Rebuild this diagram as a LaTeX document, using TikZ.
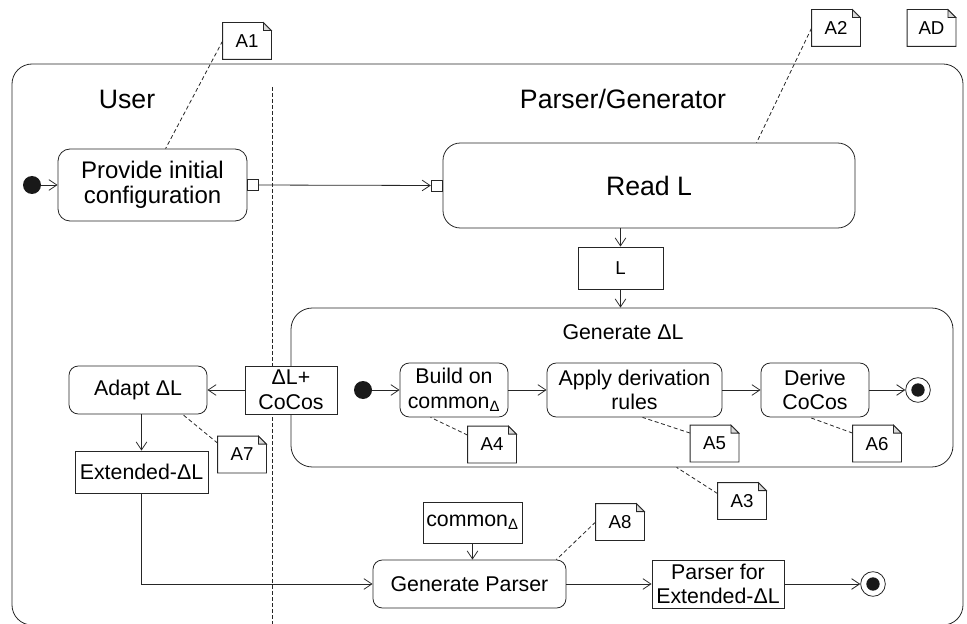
\documentclass[tikz,border=0pt]{standalone}
\usepackage{fontspec}
\setmainfont{Liberation Sans}
\usetikzlibrary{arrows.meta,calc}

\newcommand{\actfont}{\fontsize{16}{18.5}\selectfont}
\newcommand{\annfont}{\fontsize{14}{16}\selectfont}

\newcommand{\drawnote}[4]{%
    \node [annot] (#1) at (#2,#3) {#4};
    \draw (#1.south west) -- (#1.north west) -- ([xshift=-6pt]#1.north east) -- ([yshift=-6pt]#1.north east) -- (#1.south east) -- cycle;
    \filldraw [fill=gray!30] ([xshift=-6pt]#1.north east) -- ([xshift=-6pt,yshift=-6pt]#1.north east) -- ([yshift=-6pt]#1.north east) -- cycle;
}

\tikzset{
    act/.style = {draw, rounded corners=7pt, align=center, font=\actfont, inner sep=0pt},
    obj/.style = {draw, align=center, font=\actfont, inner sep=0pt},
    portbox/.style = {draw, fill=white, minimum size=8.25pt, inner sep=0pt},
    startdot/.style = {circle, fill=black!90, minimum size=13.5pt, inner sep=0pt},
    enddot/.style = {circle, draw, fill=white, minimum size=18.5pt, inner sep=0pt,
        path picture={\fill [black!90] (path picture bounding box.center) circle (5pt);}},
    flow/.style = {-{Straight Barb[length=6pt,width=8pt]}},
    anno/.style = {dash pattern=on 3pt off 2pt},
    annot/.style = {minimum width=36pt, minimum height=27pt, inner sep=0pt, text depth=-3pt, font=\annfont},
}

\begin{document}
\begin{tikzpicture}[x=0.75pt, y=-0.75pt, line width=0.6pt, draw=black!85]
        \useasboundingbox (0,0) rectangle (967,624);

        \draw [rounded corners=15pt] (12,64) rectangle (963,625);
        \draw [dash pattern=on 3pt off 1.5pt] (272,87) -- (272,624);

        \node (user) at (127,99) {\fontsize{20}{22}\selectfont User};
        \node (pgen) at (623,99) {\fontsize{20}{22}\selectfont Parser/Generator};

        \node [startdot] (s1) at (32,185) {};
        \node [act, rounded corners=9pt, minimum width=141.75pt, minimum height=54pt, font=\fontsize{18}{18.5}\selectfont] (prov) at (152.5,185) {Provide initial\\configuration};
        \node [portbox, anchor=west] (pout) at (prov.east) {};

        \node [act, rounded corners=13pt, minimum width=309pt, minimum height=63.75pt, font=\fontsize{20}{22}\selectfont] (readl) at (649,185.5) {Read L};
        \node [portbox, anchor=east] (pin) at (readl.west) {};

        \node [obj, minimum width=63.75pt, minimum height=31.5pt, font=\fontsize{14}{16}\selectfont] (lbox) at (620.5,268) {L};

        \node [draw, rounded corners=16pt, minimum width=496.5pt, minimum height=119.25pt] (gen) at (622,387.5) {};
        \node [font=\actfont] (genl) at (623,332) {Generate ΔL};

        \node [obj, fill=white, minimum width=69pt, minimum height=36pt] (dlc) at (291,390) {ΔL+\\CoCos};
        \node [act, minimum width=103.5pt, minimum height=36pt] (adapt) at (138,390) {Adapt ΔL};
        \node [obj, minimum width=99.75pt, minimum height=31.5pt] (ext) at (141.5,472) {Extended-ΔL};

        \node [startdot] (s2) at (363,390) {};
        \node [act, minimum width=81pt, minimum height=40.5pt] (build) at (454,390) {Build on\\common\textsubscript{Δ}};
        \node [act, minimum width=131.25pt, minimum height=40.5pt] (apply) at (634.5,390) {Apply derivation\\rules};
        \node [act, minimum width=81pt, minimum height=40.5pt] (derive) at (815,390) {Derive\\CoCos};
        \node [enddot] (e1) at (918,390) {};

        \node [obj, minimum width=74.25pt, minimum height=30.75pt] (common) at (472.5,522.5) {common\textsubscript{Δ}};
        \node [act, minimum width=144.75pt, minimum height=36pt] (genp) at (469.5,584) {Generate Parser};
        \node [obj, minimum width=99pt, minimum height=36pt] (parser) at (718,584) {Parser for\\Extended-ΔL};
        \node [enddot] (e2) at (873,584) {};

        \drawnote{A1}{247}{41}{A1}
        \drawnote{A2}{836}{28}{A2}
        \drawnote{AD}{931.5}{28}{AD}
        \drawnote{A3}{742}{501}{A3}
        \drawnote{A4}{492}{444.5}{A4}
        \drawnote{A5}{714.5}{443.5}{A5}
        \drawnote{A6}{877}{443.5}{A6}
        \drawnote{A7}{242}{454.5}{A7}
        \drawnote{A8}{620}{522}{A8}

        \draw [flow] (s1) -- (prov);
        \draw [flow] (pout) -- (pin);
        \draw [flow] (lbox.north |- readl.south) -- (lbox);
        \draw [flow] (lbox) -- (lbox.south |- gen.north);
        \draw [flow] (dlc) -- (adapt);
        \draw [flow] (ext.north |- adapt.south) -- (ext);
        \draw [flow] (ext) |- (genp);
        \draw [flow] (s2) -- (build);
        \draw [flow] (build) -- (apply);
        \draw [flow] (apply) -- (derive);
        \draw [flow] (derive) -- (e1);
        \draw [flow] (common) -- (common.south |- genp.north);
        \draw [flow] (genp) -- (parser);
        \draw [flow] (parser) -- (e2);

        \draw [anno] (A1.west) -- ($(prov.north west)+(108,0)$);
        \draw [anno] (A2.west) -- ($(readl.north west)+(314,0)$);
        \draw [anno] ($(A3.north west)+(0,11)$) -- ($(gen.south west)+(386,0)$);
        \draw [anno] ($(A4.north west)+(0,9)$) -- ($(build.south west)+(31,0)$);
        \draw [anno] ($(A5.north west)+(0,8)$) -- ($(apply.south west)+(96,0)$);
        \draw [anno] ($(A6.north west)+(0,8)$) -- ($(derive.south west)+(49,0)$);
        \draw [anno] ($(A7.north west)+(0,7)$) -- ($(adapt.south west)+(114,0)$);
        \draw [anno] (A8.west) -- ($(genp.north east)+(-10,0)$);
    \end{tikzpicture}
\end{document}
